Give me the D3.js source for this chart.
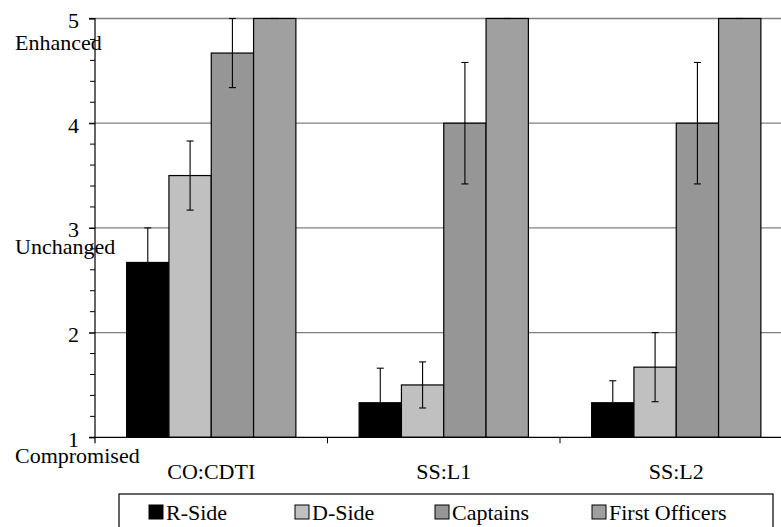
<!DOCTYPE html>
<html>
<head>
<meta charset="utf-8">
<script src="https://cdn.jsdelivr.net/npm/d3@7"></script>
<style>
  html, body { margin: 0; padding: 0; background: #fff; }
  svg text { font-family: "Liberation Serif", "Tinos", "Times New Roman", "DejaVu Serif", serif !important; }
</style>
</head>
<body>
<svg id="chart" width="781" height="527"></svg>
<script>
// Conditions along the category axis
const categories = ["CO:CDTI", "SS:L1", "SS:L2"];
// Rating groups
const seriesNames = ["R-Side", "D-Side", "Captains", "First Officers"];
const seriesColors = ["#000000", "#c0c0c0", "#969696", "#a0a0a0"];
// Mean ratings per category, one array per group
const rSide = [2.67, 1.33, 1.33];
const dSide = [3.50, 1.50, 1.67];
const captains = [4.67, 4.00, 4.00];
const firstOfficers = [5.00, 5.00, 5.00];
// Error bar half-lengths
const rSideErr = [0.33, 0.33, 0.21];
const dSideErr = [0.33, 0.22, 0.33];
const captainsErr = [0.33, 0.58, 0.58];
const firstOfficersErr = [0, 0, 0];
// Y axis ticks and the verbal anchors
const yTicks = [1, 2, 3, 4, 5];
const anchorLabels = [
  { value: 5, text: "Enhanced" },
  { value: 3, text: "Unchanged" },
  { value: 1, text: "Compromised" }
];

const values = [rSide, dSide, captains, firstOfficers];
const errors = [rSideErr, dSideErr, captainsErr, firstOfficersErr];

const svg = d3.select("#chart");
const plotLeft = 95, plotRight = 792.5, plotTop = 18.5, plotBottom = 437.3;
const fontSize = 22;
const serif = "'Liberation Serif', Tinos, 'Times New Roman', 'DejaVu Serif', serif";

const x = d3.scaleBand().domain(categories).range([plotLeft, plotRight]);
// each group fills the middle ~73% of its category band
const inner = d3.scaleBand().domain(seriesNames)
  .range([x.bandwidth() * 0.136, x.bandwidth() * 0.864]);
const y = d3.scaleLinear().domain([1, 5]).range([plotBottom, plotTop]);

// Gridlines at major ticks
svg.append("g").selectAll("line").data(yTicks.filter(t => t > 1)).join("line")
  .attr("x1", plotLeft - 6).attr("x2", 781)
  .attr("y1", d => y(d)).attr("y2", d => y(d))
  .attr("stroke", "#808080").attr("stroke-width", 1.3);

// Bars
const rows = [];
categories.forEach((c, ci) => {
  seriesNames.forEach((s, si) => {
    rows.push({ cat: c, ser: s, si, v: values[si][ci], e: errors[si][ci] });
  });
});

svg.append("g").selectAll("rect").data(rows).join("rect")
  .attr("x", d => x(d.cat) + inner(d.ser))
  .attr("y", d => y(d.v))
  .attr("width", inner.bandwidth())
  .attr("height", d => y(1) - y(d.v))
  .attr("fill", d => seriesColors[d.si])
  .attr("stroke", "#000").attr("stroke-width", 1.2);

// Error bars
const eb = svg.append("g").attr("stroke", "#000").attr("stroke-width", 1.1);
rows.forEach(d => {
  const cx = x(d.cat) + inner(d.ser) + inner.bandwidth() / 2;
  const hi = Math.min(5, d.v + d.e), lo = d.v - d.e;
  eb.append("line").attr("x1", cx).attr("x2", cx).attr("y1", y(hi)).attr("y2", y(lo));
  eb.append("line").attr("x1", cx - 3.5).attr("x2", cx + 3.5).attr("y1", y(hi)).attr("y2", y(hi));
  eb.append("line").attr("x1", cx - 3.5).attr("x2", cx + 3.5).attr("y1", y(lo)).attr("y2", y(lo));
});

// Y axis with minor ticks
const yAxis = d3.axisLeft(y).tickValues(yTicks).tickSize(6).tickPadding(10).tickFormat(d3.format("d"));
const ya = svg.append("g").attr("transform", `translate(${plotLeft},0)`).call(yAxis)
  .attr("font-family", serif).attr("font-size", fontSize);
ya.select(".domain").attr("stroke", "#000").attr("stroke-width", 1.2)
  .attr("d", `M-6,${plotTop}H0V${plotBottom + 6}`);
ya.selectAll(".tick line").attr("stroke", "#000").attr("stroke-width", 1.2);
ya.selectAll(".tick text").attr("fill", "#000").attr("dy", "0.4em");
const minor = d3.range(1, 5.001, 0.2).map(v => +v.toFixed(1)).filter(v => !yTicks.includes(v));
ya.append("g").selectAll("line").data(minor).join("line")
  .attr("x1", -5).attr("x2", 0).attr("y1", d => y(d)).attr("y2", d => y(d))
  .attr("stroke", "#000").attr("stroke-width", 1);

// Verbal anchors
svg.append("g").attr("font-family", serif).selectAll("text").data(anchorLabels).join("text")
  .attr("x", 15)
  .attr("y", d => y(d.value) + (d.value === 5 ? 31 : 26))
  .attr("font-size", fontSize).attr("fill", "#000")
  .text(d => d.text);

// X axis
const xAxis = d3.axisBottom(x).tickSize(0).tickFormat(() => "");
const xa = svg.append("g").attr("transform", `translate(0,${plotBottom})`).call(xAxis);
xa.select(".domain").attr("stroke", "#000").attr("stroke-width", 1.2)
  .attr("d", `M${plotLeft - 6},0H${plotRight}`);
xa.selectAll(".tick").remove();
xa.selectAll("line.sep").data(categories.slice(1)).join("line").attr("class", "sep")
  .attr("x1", d => x(d)).attr("x2", d => x(d)).attr("y1", 0).attr("y2", 6)
  .attr("stroke", "#000").attr("stroke-width", 1);
svg.append("g").attr("font-family", serif).selectAll("text").data(categories).join("text")
  .attr("x", d => x(d) + x.bandwidth() / 2)
  .attr("y", 478.5)
  .attr("text-anchor", "middle")
  .attr("font-size", fontSize).attr("fill", "#000")
  .text(d => d);

// Legend
const lg = svg.append("g").attr("font-family", serif);
lg.append("rect").attr("x", 119).attr("y", 494).attr("width", 654).attr("height", 60)
  .attr("fill", "#fff").attr("stroke", "#000").attr("stroke-width", 1.2);
const legendX = [149, 295, 435, 592];
const items = lg.selectAll("g.item").data(seriesNames).join("g").attr("class", "item")
  .attr("transform", (d, i) => `translate(${legendX[i]},505)`);
items.append("rect").attr("width", 14).attr("height", 14)
  .attr("fill", (d, i) => seriesColors[i]).attr("stroke", "#000").attr("stroke-width", 1);
items.append("text").attr("x", 17).attr("y", 14.5)
  .attr("font-size", fontSize).attr("fill", "#000").text(d => d);
</script>
</body>
</html>
